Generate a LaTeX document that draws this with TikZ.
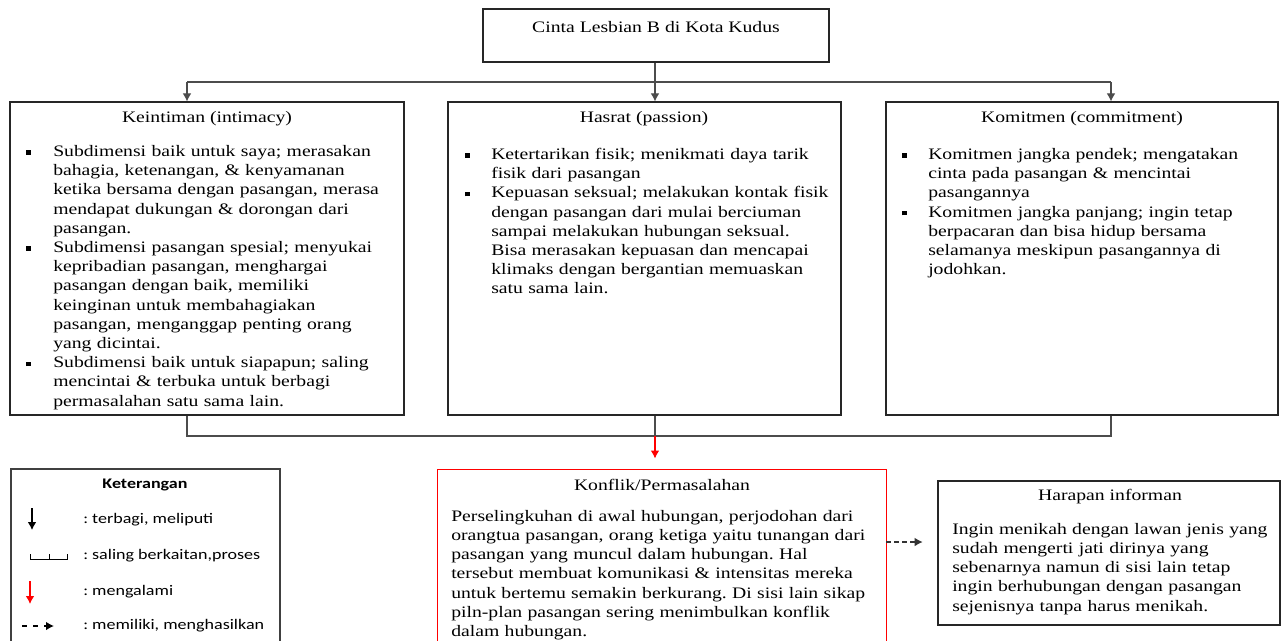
\documentclass[tikz,border=0pt]{standalone}
\usepackage{fontspec}
\setmainfont{Liberation Serif}[FakeStretch=1.23]
\newfontfamily\legendfont{Carlito}[FakeStretch=1.23]
\usetikzlibrary{arrows.meta, fit}
\frenchspacing

% square bullet list used inside the three panels
\newcommand{\sqmark}{\rule[0.22ex]{3.2pt}{3.4pt}}
\newenvironment{sqlist}[1]{%
  \begin{list}{\sqmark}{%
    \setlength{\leftmargin}{#1}\setlength{\labelwidth}{#1}%
    \setlength{\labelsep}{0pt}\setlength{\itemsep}{0pt}%
    \setlength{\parsep}{0pt}\setlength{\topsep}{0pt}%
    \setlength{\partopsep}{0pt}\setlength{\itemindent}{0pt}%
    \renewcommand{\makelabel}[1]{##1\hfil}}}%
  {\end{list}}

\begin{document}
\begin{tikzpicture}[x=0.75pt, y=-0.75pt,
    panel/.style={draw=black!85, line width=0.9pt, inner sep=0pt},
    redpanel/.style={draw=red, line width=0.7pt, inner sep=0pt},
    heading/.style={inner sep=0pt, font=\fontsize{12}{14.4}\selectfont},
    bodytext/.style={inner sep=0pt, anchor=north west, align=left, font=\fontsize{12}{14.4}\selectfont},
    legendtext/.style={inner sep=0pt, anchor=west, font=\legendfont\fontsize{11}{13}\selectfont},
    link/.style={draw=black!70, line width=0.8pt},
    arr/.style={link, -{Latex[length=6pt, width=6.5pt]}},
    redarr/.style={draw=red, line width=0.9pt, -{Latex[length=6pt, width=6.5pt]}},
    dasharr/.style={draw=black!80, line width=1.1pt, dash pattern=on 3.5pt off 2.5pt, -{Latex[length=6pt, width=6.5pt]}}]

    \useasboundingbox (0,0) rectangle (1285,640);
    \clip (0,0) rectangle (1285,640);

    % Top box
    \node[panel, fit={(483,9) (829,62)}] (cinta) {};
    \node[heading] (cintatitle) at (656,27) {Cinta Lesbian B di Kota Kudus};

    % Three components
    \node[panel, fit={(10,102) (404,415)}] (intim) {};
    \node[panel, fit={(448,102) (841,415)}] (hasrat) {};
    \node[panel, fit={(886,102) (1278,415)}] (komit) {};

    \node[heading] (intimtitle) at (207,119) {Keintiman (intimacy)};
    \node[heading] (hasrattitle) at (644,119) {Hasrat (passion)};
    \node[heading] (komittitle) at (1082,119) {Komitmen (commitment)};

    \node[bodytext, text width=290pt] (intimtxt) at (26,137) {%
      \begin{sqlist}{20.25pt}
      \item Subdimensi baik untuk saya; merasakan\\ bahagia, ketenangan, \& kenyamanan\\ ketika bersama dengan pasangan, merasa\\ mendapat dukungan \& dorongan dari\\ pasangan.
      \item Subdimensi pasangan spesial; menyukai\\ kepribadian pasangan, menghargai\\ pasangan dengan baik, memiliki\\ keinginan untuk membahagiakan\\ pasangan, menganggap penting orang\\ yang dicintai.
      \item Subdimensi baik untuk siapapun; saling\\ mencintai \& terbuka untuk berbagi\\ permasalahan satu sama lain.
      \end{sqlist}};
    \node[bodytext, text width=290pt] (hasrattxt) at (465,140) {%
      \begin{sqlist}{19.5pt}
      \item Ketertarikan fisik; menikmati daya tarik\\ fisik dari pasangan
      \item Kepuasan seksual; melakukan kontak fisik\\ dengan pasangan dari mulai berciuman\\ sampai melakukan hubungan seksual.\\ Bisa merasakan kepuasan dan mencapai\\ klimaks dengan bergantian memuaskan\\ satu sama lain.
      \end{sqlist}};
    \node[bodytext, text width=290pt] (komittxt) at (902,140) {%
      \begin{sqlist}{19.5pt}
      \item Komitmen jangka pendek; mengatakan\\ cinta pada pasangan \& mencintai\\ pasangannya
      \item Komitmen jangka panjang; ingin tetap\\ berpacaran dan bisa hidup bersama\\ selamanya meskipun pasangannya di\\ jodohkan.
      \end{sqlist}};

    % Conflict and hope
    \node[redpanel, fit={(437,469) (886,660)}] (konflik) {};
    \node[heading] (konfliktitle) at (662,485) {Konflik/Permasalahan};
    \node[bodytext, text width=330pt] (konfliktxt) at (451,510) {Perselingkuhan di awal hubungan, perjodohan dari\\ orangtua pasangan, orang ketiga yaitu tunangan dari\\ pasangan yang muncul dalam hubungan. Hal\\ tersebut membuat komunikasi \& intensitas mereka\\ untuk bertemu semakin berkurang. Di sisi lain sikap\\ piln-plan pasangan sering menimbulkan konflik\\ dalam hubungan.};

    \node[panel, fit={(938,481) (1280,625)}] (harapan) {};
    \node[heading] (harapantitle) at (1110,497) {Harapan informan};
    \node[bodytext, text width=250pt] (harapantxt) at (952,523) {Ingin menikah dengan lawan jenis yang\\ sudah mengerti jati dirinya yang\\ sebenarnya namun di sisi lain tetap\\ ingin berhubungan dengan pasangan\\ sejenisnya tanpa harus menikah.};

    % Connectors
    \coordinate (split) at (655,82);
    \coordinate (t1) at (187,82);
    \coordinate (t3) at (1111,82);
    \draw[link] (cinta.south -| split) -- (split);
    \draw[link] (t1) -- (t3);
    \draw[arr] (t1) -- (t1 |- intim.north);
    \draw[arr] (split) -- (split |- hasrat.north);
    \draw[arr] (t3) -- (t3 |- komit.north);

    \coordinate (b1) at (187,436);
    \coordinate (b2) at (655,436);
    \coordinate (b3) at (1111,436);
    \draw[link] (b1 |- intim.south) -- (b1) -- (b3) -- (b3 |- komit.south);
    \draw[link] (b2 |- hasrat.south) -- (b2);
    \draw[redarr, shorten >=7.5pt] (b2) -- (b2 |- konflik.north);

    \coordinate (dashy) at (900,542);
    \draw[dasharr, shorten >=11pt] (konflik.east |- dashy) -- (harapan.west |- dashy);

    % Legend
    \node[panel, draw=black!75, line width=0.8pt, fit={(11,469) (280,660)}] (ket) {};
    \node[legendtext, anchor=center, font=\legendfont\bfseries\fontsize{11}{13}\selectfont] (kettitle) at (145,485) {Keterangan};
    \node[legendtext] (ket1) at (83,520) {: terbagi, meliputi};
    \node[legendtext] (ket2) at (83,556) {: saling berkaitan,proses};
    \node[legendtext] (ket3) at (83,592) {: mengalami};
    \node[legendtext] (ket4) at (83,626) {: memiliki, menghasilkan};

    \draw[arr, draw=black] (32,508) -- (32,530);
    \draw[black, line width=0.6pt] (30,554) -- (30,559) -- (67,559) -- (67,554) (49,559) -- (49,554);
    \draw[redarr] (30,581) -- (30,604);
    \draw[dasharr, draw=black, dash pattern=on 3.75pt off 4.5pt] (22,626) -- (54,626);
\end{tikzpicture}
\end{document}
